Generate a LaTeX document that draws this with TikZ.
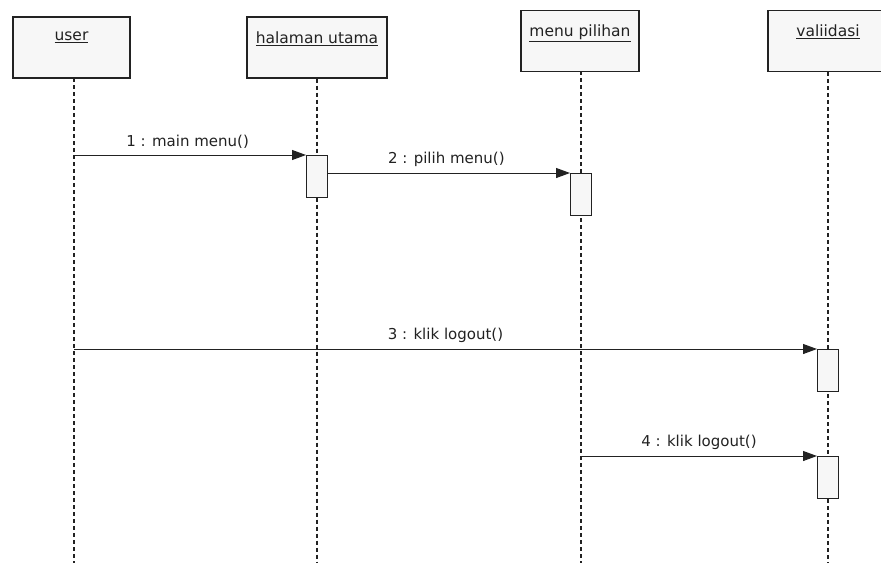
\documentclass[tikz,border=0pt]{standalone}
\usepackage{fontspec}
\setmainfont{DejaVu Sans}
\usetikzlibrary{arrows.meta}
\definecolor{boxfill}{HTML}{F7F7F7}
\definecolor{ink}{HTML}{222222}
\tikzset{
  objbox/.style={draw=ink, line width=1.4pt, fill=boxfill, minimum width=#1, minimum height=61pt, inner sep=0pt},
  objlabel/.style={anchor=north, font=\fontsize{15.5}{18}\selectfont, text=ink, inner sep=0pt},
  lifeline/.style={draw=ink, line width=1.2pt, dash pattern=on 4pt off 3pt},
  actbox/.style={draw=ink, line width=1pt, fill=boxfill, minimum width=21pt, minimum height=42pt, inner sep=0pt, anchor=north},
  msg/.style={draw=ink, line width=1pt, -{Triangle[length=14pt,width=10pt]}},
  msglabel/.style={font=\fontsize{15}{17}\selectfont, text=ink, inner sep=0pt}
}
\newcommand{\ul}[1]{\underline{#1}}
\begin{document}
\begin{tikzpicture}[x=1pt,y=-1pt]
\useasboundingbox (0,0) rectangle (881,563);
\begin{scope}
\clip (0,0) rectangle (881,563);
% object boxes
\node[objbox=117pt] (user) at (71.5,47.5) {};
\node[objbox=140pt] (hal) at (317,47.5) {};
\node[objbox=118pt] (menu) at (580,41) {};
\node[objbox=120pt] (val) at (828,41) {};
\node[objlabel] (userT) at ([yshift=-15pt]user.north) {\ul{user}};
\node[objlabel] (halT) at ([yshift=-15pt]hal.north) {\ul{halaman utama}};
\node[objlabel] (menuT) at ([yshift=-15pt]menu.north) {\ul{menu pilihan}};
\node[objlabel] (valT) at ([yshift=-15pt]val.north) {\ul{valiidasi}};
% lifeline ends
\coordinate (userE) at (74,563);
\coordinate (halE) at (317,563);
\coordinate (menuE) at (581,563);
\coordinate (valE) at (828,563);
\draw[lifeline] (74,78) -- (userE);
\draw[lifeline] (hal.south) -- (halE);
\draw[lifeline] (581,71) -- (menuE);
\draw[lifeline] (val.south) -- (valE);
% activations
\node[actbox] (a1) at (317,155) {};
\node[actbox] (a2) at (581,173) {};
\node[actbox] (a3) at (828,349) {};
\node[actbox] (a4) at (828,456) {};
% message starts
\coordinate (s1) at (74,155);
\coordinate (s2) at (327.5,173);
\coordinate (s3) at (74,349);
\coordinate (s4) at (581,456);
\draw[msg] (s1) -- (a1.north west) node[msglabel, pos=0.49, above=6pt] (m1) {1 : main menu()};
\draw[msg] (s2) -- (a2.north west) node[msglabel, pos=0.49, above=6pt] (m2) {2 : pilih menu()};
\draw[msg] (s3) -- (a3.north west) node[msglabel, pos=0.5, above=6pt] (m3) {3 : klik logout()};
\draw[msg] (s4) -- (a4.north west) node[msglabel, pos=0.5, above=6pt] (m4) {4 : klik logout()};
\end{scope}
\end{tikzpicture}
\end{document}
